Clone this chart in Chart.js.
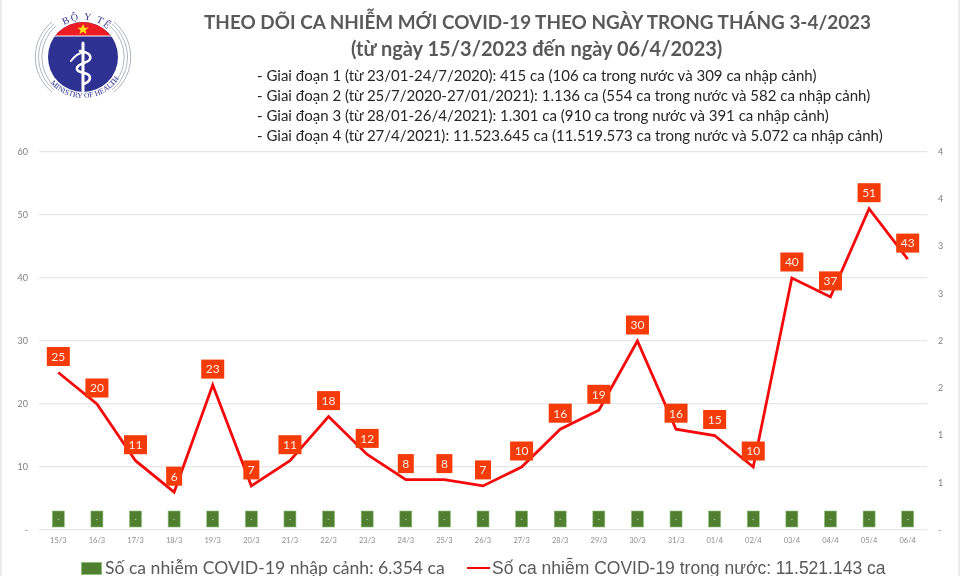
<!DOCTYPE html>
<html lang="vi">
<head>
<meta charset="utf-8">
<title>COVID-19</title>
<script src="https://cdn.jsdelivr.net/npm/chart.js@4"></script>
<style>
  html, body { margin: 0; padding: 0; background: #fff; }
  #wrap { position: relative; width: 960px; height: 576px; overflow: hidden; }
  #wrap:before, #wrap:after { content: ""; position: absolute; top: 0; bottom: 0; width: 2px; background: #ececec; }
  #wrap:before { left: 0; }
  #wrap:after { right: 0; }
  canvas { position: absolute; left: 0; top: 0; }
  .t { position: absolute; white-space: nowrap; font-family: Lato, "Open Sans", sans-serif; }
  .title { font-weight: 700; color: #595959; line-height: 26px; }
  .sub { font-size: 15px; color: #262626; line-height: 20px; left: 257px; }
  .leg { color: #595959; top: 556px; line-height: 24px; }
  #logo { position: absolute; left: 30px; top: 8px; }
</style>
</head>
<body>
<div id="wrap">
  <canvas id="chart" width="960" height="576"></canvas>
  <svg id="logo" width="106" height="100" viewBox="30 8 106 100">
    <defs>
      <path id="topArc" d="M 60 28 A 36 36 0 0 1 106 28"/>
      <path id="botArc" d="M 48 80 A 43 43 0 0 0 118 80"/>
      <clipPath id="disc"><circle cx="83" cy="57" r="35"/></clipPath>
    </defs>
    <g fill="none" stroke="#8f93a8" stroke-width="0.7">
      <path d="M 56 26 A 41 41 0 0 0 56 88"/>
      <path d="M 110 26 A 41 41 0 0 1 110 88"/>
      <path d="M 54 24 A 43 43 0 0 0 54 90"/>
      <path d="M 112 24 A 43 43 0 0 1 112 90"/>
      <path d="M 52 22 A 45 45 0 0 0 52 92"/>
      <path d="M 114 22 A 45 45 0 0 1 114 92"/>
    </g>
    <circle cx="83" cy="57" r="35" fill="#2e3192"/>
    <rect x="48" y="20" width="70" height="16" fill="#ed1c24" clip-path="url(#disc)"/>
    <rect x="48" y="35.5" width="70" height="1" fill="#fff" clip-path="url(#disc)"/>
    <polygon points="83,24 84.6,27.8 88.6,27.8 85.4,30.2 86.6,34 83,31.7 79.4,34 80.6,30.2 77.4,27.8 81.4,27.8" fill="#ffde17"/>
    <g fill="none" stroke="#fff" stroke-linecap="round" clip-path="url(#disc)">
      <path d="M 83 43 L 83 92" stroke-width="3"/>
      <path d="M 80 51 C 93 53 93 60 84 63 C 75 66 74 71 84 73 C 93 75 91 82 83 84" stroke-width="2.6"/>
      <path d="M 71 61 C 74 57 77 54 81 53" stroke-width="2"/>
    </g>
    <text font-family="Liberation Serif, serif" font-size="10" fill="#2e3192" letter-spacing="1.5"><textPath href="#topArc" startOffset="5">BỘ Y TẾ</textPath></text>
    <text font-family="Liberation Serif, serif" font-size="7.6" fill="#2e3192"><textPath href="#botArc" startOffset="4">MINISTRY OF HEALTH</textPath></text>
  </svg>
  <div class="t title" style="left:204px;top:9px;font-size:18.9px">THEO DÕI CA NHIỄM MỚI COVID-19 THEO NGÀY TRONG THÁNG 3-4/2023</div>
  <div class="t title" style="left:351px;top:35px;font-size:20px">(từ ngày 15/3/2023 đến ngày 06/4/2023)</div>
  <div class="t sub" style="top:65px">- Giai đoạn 1 (từ 23/01-24/7/2020): 415 ca (106 ca trong nước và 309 ca nhập cảnh)</div>
  <div class="t sub" style="top:85px">- Giai đoạn 2 (từ 25/7/2020-27/01/2021): 1.136 ca (554 ca trong nước và 582 ca nhập cảnh)</div>
  <div class="t sub" style="top:105px">- Giai đoạn 3 (từ 28/01-26/4/2021): 1.301 ca (910 ca trong nước và 391 ca nhập cảnh)</div>
  <div class="t sub" style="top:125px">- Giai đoạn 4 (từ 27/4/2021): 11.523.645 ca (11.519.573 ca trong nước và 5.072 ca nhập cảnh)</div>
  <div style="position:absolute;left:81px;top:562px;width:21px;height:13px;background:#4f7f2f;border:1px solid #8cc07a;box-sizing:border-box"></div>
  <div class="t leg" style="left:105px;font-size:17.6px">Số ca nhiễm COVID-19 nhập cảnh: 6.354 ca</div>
  <div style="position:absolute;left:467px;top:567px;width:23px;height:2.4px;background:#f40a0a"></div>
  <div class="t leg" style="left:492px;font-size:17.5px;font-family:'Liberation Sans',sans-serif">Số ca nhiễm COVID-19 trong nước: 11.521.143 ca</div>
</div>
<script>
const categories = ['15/3', '16/3', '17/3', '18/3', '19/3', '20/3', '21/3', '22/3', '23/3', '24/3', '25/3', '26/3',
    '27/3', '28/3', '29/3', '30/3', '31/3', '01/4', '02/4', '03/4', '04/4', '05/4', '06/4'];
const caTrongNuoc = [25, 20, 11, 6, 23, 7, 11, 18, 12, 8, 8, 7, 10, 16, 19, 30, 16, 15, 10, 40, 37, 51, 43];
const caNhapCanh = [0, 0, 0, 0, 0, 0, 0, 0, 0, 0, 0, 0, 0, 0, 0, 0, 0, 0, 0, 0, 0, 0, 0];

// value boxes sitting above each point, like the data labels of the original
const valueBoxes = {
    id: 'valueBoxes',
    afterDatasetsDraw(chart) {
        const ctx = chart.ctx;
        ctx.save();
        ctx.textAlign = 'center';
        ctx.textBaseline = 'middle';
        chart.data.datasets.forEach(function (ds, i) {
            const isBar = ds.type === 'bar';
            chart.getDatasetMeta(i).data.forEach(function (el, j) {
                const v = ds.data[j];
                const text = v === 0 ? '-' : String(v);
                const w = isBar ? 12 : (text.length > 1 ? 23 : 16);
                const h = isBar ? 16 : 19;
                const cy = el.y - (isBar ? 11 : 16);
                ctx.fillStyle = isBar ? '#4f7f2f' : '#f53b08';
                ctx.fillRect(el.x - w / 2, cy - h / 2, w, h);
                if (isBar) {
                    ctx.strokeStyle = '#8cc07a';
                    ctx.lineWidth = 0.6;
                    ctx.strokeRect(el.x - w / 2, cy - h / 2, w, h);
                }
                ctx.fillStyle = isBar ? '#c9dcc0' : '#ffeee8';
                ctx.font = (isBar ? 7 : 12) + 'px Lato, "Open Sans", sans-serif';
                ctx.fillText(text, el.x, cy + 0.5);
            });
        });
        ctx.restore();
    }
};

new Chart(document.getElementById('chart').getContext('2d'), {
    type: 'bar',
    data: {
        labels: categories,
        datasets: [
            {
                type: 'line',
                label: 'Số ca nhiễm COVID-19 trong nước',
                data: caTrongNuoc,
                borderColor: '#f40a0a',
                borderWidth: 2.8,
                pointRadius: 0,
                tension: 0,
                yAxisID: 'y',
                order: 1
            },
            {
                type: 'bar',
                label: 'Số ca nhiễm COVID-19 nhập cảnh',
                data: caNhapCanh,
                backgroundColor: '#4f7f2f',
                yAxisID: 'y1',
                order: 2
            }
        ]
    },
    plugins: [valueBoxes],
    options: {
        responsive: false,
        animation: false,
        layout: { padding: { top: 152, left: 0, right: 0, bottom: 0 } },
        plugins: { legend: { display: false }, title: { display: false }, tooltip: { enabled: false } },
        scales: {
            x: {
                grid: { display: false, drawTicks: false },
                border: { display: false },
                afterFit: function (s) { s.height = 46; },
                ticks: {
                    maxRotation: 0, autoSkip: false, padding: 6,
                    color: '#8c8c8c',
                    font: { size: 7.5, family: 'Lato, "Open Sans", sans-serif' }
                }
            },
            y: {
                position: 'left',
                min: 0, max: 60,
                grid: { color: '#e6e6e6', lineWidth: 1.2, drawTicks: false },
                border: { display: false },
                afterFit: function (s) { s.width = 39; },
                ticks: {
                    stepSize: 10, padding: 11,
                    color: '#808080',
                    font: { size: 9, family: 'Lato, "Open Sans", sans-serif' },
                    callback: function (value) { return value === 0 ? '-' : value; }
                }
            },
            y1: {
                position: 'right',
                min: 0, max: 4,
                grid: { display: false, drawTicks: false },
                border: { display: false },
                afterFit: function (s) { s.width = 33; },
                ticks: {
                    stepSize: 0.5, padding: 11,
                    color: '#808080',
                    font: { size: 9, family: 'Lato, "Open Sans", sans-serif' },
                    callback: function (value) { return value === 0 ? '-' : Math.round(value); }
                }
            }
        }
    }
});
</script>
</body>
</html>
